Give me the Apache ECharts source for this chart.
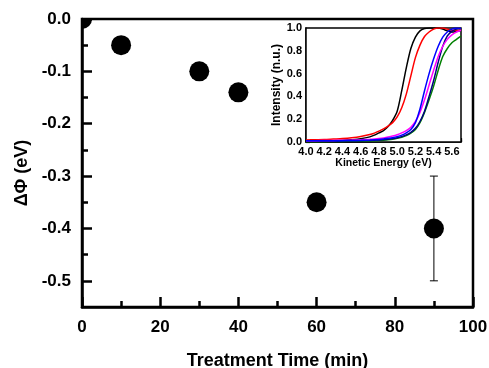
<!DOCTYPE html>
<html><head><meta charset="utf-8">
<script src="https://cdn.jsdelivr.net/npm/echarts@6/dist/echarts.min.js"></script>
<style>html,body{margin:0;padding:0;background:#fff}#c{width:489px;height:368px}</style>
</head><body><div id="c"></div>
<script>
// Main plot data
const treatmentTime = [0, 10, 30, 40, 60, 90];
const deltaPhi = [0.0, -0.05, -0.10, -0.14, -0.35, -0.40];
const errorTime = [90];
const errorLow = [-0.50];
const errorHigh = [-0.30];
const mainYLabelValues = [0, -0.1, -0.2, -0.3, -0.4, -0.5];
const mainYMinorValues = [-0.05, -0.15, -0.25, -0.35, -0.45];

// Inset data
const kineticEnergy = [4.0,4.1,4.2,4.3,4.4,4.5,4.6,4.7,4.75,4.8,4.85,4.9,4.95,5.0,5.05,5.1,5.15,5.2,5.25,5.3,5.35,5.4,5.45,5.5,5.55,5.6,5.65,5.7];
const curveBlack   = [0.008,0.009,0.01,0.012,0.015,0.02,0.028,0.045,0.06,0.08,0.10,0.135,0.19,0.27,0.45,0.65,0.82,0.92,0.975,0.995,1.0,1.0,1.0,0.99,0.975,0.965,0.97,0.98];
const curveRed     = [0.018,0.02,0.022,0.026,0.03,0.037,0.048,0.065,0.078,0.095,0.115,0.14,0.17,0.22,0.30,0.42,0.58,0.74,0.85,0.925,0.965,0.99,1.0,1.0,0.99,0.98,0.98,0.985];
const curveBlue    = [0.01,0.01,0.01,0.011,0.012,0.013,0.015,0.018,0.02,0.023,0.027,0.032,0.038,0.047,0.06,0.08,0.11,0.17,0.29,0.45,0.60,0.73,0.84,0.92,0.965,0.99,1.0,0.995];
const curveMagenta = [0.012,0.012,0.013,0.014,0.015,0.017,0.02,0.024,0.027,0.031,0.036,0.043,0.052,0.064,0.08,0.10,0.13,0.18,0.26,0.37,0.50,0.63,0.75,0.84,0.90,0.94,0.965,0.98];
const curveNavy    = [0.008,0.008,0.008,0.009,0.01,0.011,0.012,0.014,0.016,0.018,0.021,0.025,0.03,0.037,0.047,0.062,0.085,0.12,0.18,0.27,0.40,0.54,0.70,0.84,0.93,0.97,0.99,0.995];
const curveGreen   = [0.003,0.003,0.003,0.004,0.005,0.006,0.007,0.009,0.011,0.013,0.016,0.02,0.025,0.032,0.042,0.056,0.077,0.11,0.17,0.26,0.37,0.49,0.63,0.75,0.82,0.87,0.90,0.93];

const FONT = '"Liberation Sans", Arial, sans-serif';
const chart = echarts.init(document.getElementById('c'), null, {renderer: 'canvas'});

function curve(name, arr, color) {
  return {
    name: name, type: 'line', xAxisIndex: 1, yAxisIndex: 2,
    data: kineticEnergy.map((e, i) => [e, arr[i]]),
    showSymbol: false, smooth: 0.3, clip: true,
    lineStyle: {color: color, width: 1.5}, itemStyle: {color: color},
    z: 5
  };
}

const option = {
  animation: false,
  backgroundColor: '#fff',
  textStyle: {fontFamily: FONT},
  grid: [
    {left: 82, right: 16, top: 19, bottom: 61, containLabel: false, outerBoundsMode: 'none',
      show: true, borderColor: '#000', borderWidth: 2.5, backgroundColor: 'transparent'},
    {left: 306, right: 28, top: 28, bottom: 226, containLabel: false, outerBoundsMode: 'none',
      show: true, borderColor: '#000', borderWidth: 1.5, backgroundColor: '#fff', z: 4}
  ],
  xAxis: [
    {
      gridIndex: 0, type: 'value', min: 0, max: 100, interval: 20,
      name: 'Treatment Time (min)', nameLocation: 'middle', nameGap: 45,
      nameTextStyle: {fontFamily: FONT, fontWeight: 'bold', fontSize: 18, color: '#000'},
      axisLine: {show: true, onZero: false, lineStyle: {color: '#000', width: 2.5}},
      axisTick: {show: true, inside: true, length: 10, lineStyle: {color: '#000', width: 2.5}},
      minorTick: {show: true, splitNumber: 2, length: 6, lineStyle: {color: '#000', width: 2.5}},
      axisLabel: {margin: 12, fontFamily: FONT, fontWeight: 'bold', fontSize: 17, color: '#000'},
      splitLine: {show: false}
    },
    {
      gridIndex: 1, type: 'value', min: 4.0, max: 5.7, interval: 0.2,
      name: 'Kinetic Energy (eV)', nameLocation: 'middle', nameGap: 14,
      nameTextStyle: {fontFamily: FONT, fontWeight: 'bold', fontSize: 10.5, color: '#000'},
      axisLine: {show: true, onZero: false, lineStyle: {color: '#000', width: 1.5}},
      axisTick: {show: true, inside: true, length: 4, lineStyle: {color: '#000', width: 1.2}},
      minorTick: {show: true, splitNumber: 2, length: 2.5, lineStyle: {color: '#000', width: 1.2}},
      axisLabel: {margin: 4, fontFamily: FONT, fontWeight: 'bold', fontSize: 11, color: '#000',
        formatter: v => v.toFixed(1), showMaxLabel: false},
      splitLine: {show: false}
    }
  ],
  yAxis: [
    {
      gridIndex: 0, type: 'value', min: -0.55, max: 0,
      name: 'ΔΦ (eV)', nameLocation: 'middle', nameGap: 50, nameRotate: 90,
      nameTextStyle: {fontFamily: FONT, fontWeight: 'bold', fontSize: 18, color: '#000', padding: [0, 20, 0, 0]},
      axisLine: {show: true, onZero: false, lineStyle: {color: '#000', width: 2.5}},
      axisTick: {show: true, inside: true, length: 10, customValues: mainYLabelValues, lineStyle: {color: '#000', width: 2.5}},
      axisLabel: {margin: 11, fontFamily: FONT, fontWeight: 'bold', fontSize: 17, color: '#000',
        customValues: mainYLabelValues, formatter: v => (Math.abs(v) < 1e-9 ? '0.0' : v.toFixed(1))},
      splitLine: {show: false}
    },
    {
      gridIndex: 0, type: 'value', min: -0.55, max: 0, position: 'left',
      axisLine: {show: false},
      axisTick: {show: true, inside: true, length: 6, customValues: mainYMinorValues, lineStyle: {color: '#000', width: 2.5}},
      axisLabel: {show: false},
      splitLine: {show: false}
    },
    {
      gridIndex: 1, type: 'value', min: 0, max: 1.0, interval: 0.2,
      name: 'Intensity (n.u.)', nameLocation: 'middle', nameGap: 20, nameRotate: 90,
      nameTextStyle: {fontFamily: FONT, fontWeight: 'bold', fontSize: 12, color: '#000'},
      axisLine: {show: true, onZero: false, lineStyle: {color: '#000', width: 1.5}},
      axisTick: {show: true, inside: true, length: 4, lineStyle: {color: '#000', width: 1.2}},
      minorTick: {show: true, splitNumber: 2, length: 2.5, lineStyle: {color: '#000', width: 1.2}},
      axisLabel: {margin: 4, fontFamily: FONT, fontWeight: 'bold', fontSize: 11, color: '#000',
        formatter: v => v.toFixed(1)},
      splitLine: {show: false}
    }
  ],
  series: [
    {
      type: 'custom', xAxisIndex: 0, yAxisIndex: 0,
      data: errorTime.map((t, i) => [t, errorLow[i], errorHigh[i]]),
      encode: {x: 0, y: [1, 2]},
      renderItem: function (params, api) {
        const x = api.value(0);
        const pTop = api.coord([x, api.value(2)]);
        const pBot = api.coord([x, api.value(1)]);
        const w = 4;
        const st = {stroke: '#000', lineWidth: 1};
        return {type: 'group', children: [
          {type: 'line', shape: {x1: pTop[0], y1: pTop[1], x2: pBot[0], y2: pBot[1]}, style: st},
          {type: 'line', shape: {x1: pTop[0] - w, y1: pTop[1], x2: pTop[0] + w, y2: pTop[1]}, style: st},
          {type: 'line', shape: {x1: pBot[0] - w, y1: pBot[1], x2: pBot[0] + w, y2: pBot[1]}, style: st}
        ]};
      },
      z: 2
    },
    {
      type: 'custom', xAxisIndex: 0, yAxisIndex: 0, clip: true,
      data: treatmentTime.map((t, i) => [t, deltaPhi[i]]),
      encode: {x: 0, y: 1},
      renderItem: function (params, api) {
        const p = api.coord([api.value(0), api.value(1)]);
        return {type: 'circle', shape: {cx: p[0], cy: p[1], r: 10}, style: {fill: '#000'}};
      },
      z: 3
    },
    curve('black', curveBlack, '#000000'),
    curve('red', curveRed, '#ff0000'),
    curve('green', curveGreen, '#008000'),
    curve('navy', curveNavy, '#000080'),
    curve('magenta', curveMagenta, '#ff00ff'),
    curve('blue', curveBlue, '#0000ff')
  ]
};
chart.setOption(option);
</script>
</body></html>
